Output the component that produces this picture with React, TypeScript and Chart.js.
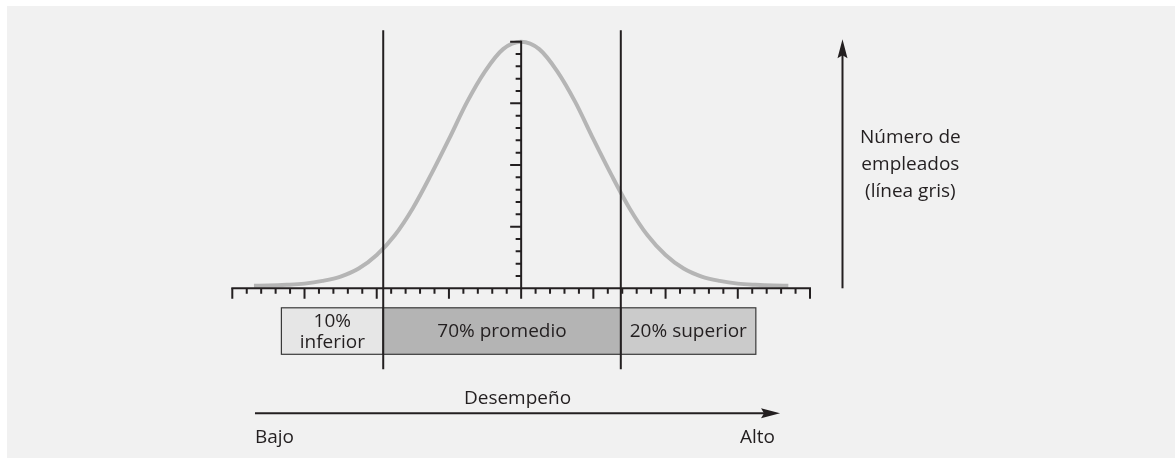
import React, { useEffect, useRef } from "react";
import { Chart, registerables } from "chart.js";

Chart.register(...registerables);

// Performance axis (x, in standard-deviation units) and number of employees (y)
const curveX = [
  -3.7, -3.5, -3.25, -3, -2.75, -2.5, -2.25, -2, -1.75, -1.5, -1.25, -1, -0.75, -0.5, -0.25,
  0, 0.25, 0.5, 0.75, 1, 1.25, 1.5, 1.75, 2, 2.25, 2.5, 2.75, 3, 3.25, 3.5, 3.7,
];
const curveY = [
  0.2, 0.22, 0.28, 0.38, 0.6, 0.95, 1.6, 2.7, 4.3, 6.5, 9.2, 12.1, 15.1, 17.6, 19.4,
  20, 19.4, 17.6, 15.1, 12.1, 9.2, 6.5, 4.3, 2.7, 1.6, 0.95, 0.6, 0.38, 0.28, 0.22, 0.2,
];

const segmentLabels = [["10%", "inferior"], ["70% promedio"], ["20% superior"]];
const segmentBounds = [-3.32, -1.91, 1.38, 3.25];
const segmentColors = ["#e6e6e6", "#b4b4b4", "#cbcbcb"];
const cutoffs = [-1.91, 1.38];

const xAxisTitle = "Desempeño";
const xLowLabel = "Bajo";
const xHighLabel = "Alto";
const yAxisTitle = ["Número de", "empleados", "(línea gris)"];

const INK = "#231f20";
const FONT = '19px "Open Sans"';

const overlay = {
  id: "overlay",
  afterDatasetsDraw(chart: any) {
    const ctx: CanvasRenderingContext2D = chart.ctx;
    const xs = chart.scales.x;
    const ys = chart.scales.y;
    const X = (v: number) => xs.getPixelForValue(v);
    const Y = (v: number) => ys.getPixelForValue(v);
    const y0 = Y(0);
    ctx.save();

    // Segment boxes
    const boxTop = y0 + 19.5;
    const boxBot = y0 + 66;
    ctx.font = FONT;
    ctx.textAlign = "center";
    ctx.textBaseline = "middle";
    for (let i = 0; i < segmentLabels.length; i++) {
      const l = X(segmentBounds[i]);
      const r = X(segmentBounds[i + 1]);
      ctx.fillStyle = segmentColors[i];
      ctx.fillRect(l, boxTop, r - l, boxBot - boxTop);
      ctx.strokeStyle = "#3a3a3a";
      ctx.lineWidth = 1.2;
      ctx.strokeRect(l, boxTop, r - l, boxBot - boxTop);
    }
    for (let i = 0; i < segmentLabels.length; i++) {
      const l = X(segmentBounds[i]);
      const r = X(segmentBounds[i + 1]);
      const lines = segmentLabels[i];
      const cy = (boxTop + boxBot) / 2;
      const lh = 21;
      ctx.fillStyle = INK;
      lines.forEach((t, k) => {
        ctx.fillText(t, (l + r) / 2, cy + (k - (lines.length - 1) / 2) * lh + 1);
      });
    }

    ctx.strokeStyle = INK;
    ctx.lineWidth = 2;
    ctx.lineCap = "butt";

    // X axis line and ticks
    ctx.beginPath();
    ctx.moveTo(X(-4) - 1, y0);
    ctx.lineTo(X(4) + 1, y0);
    ctx.stroke();
    ctx.beginPath();
    for (let i = 0; i <= 40; i++) {
      const px = X(-4 + i * 0.2);
      ctx.moveTo(px, y0);
      ctx.lineTo(px, y0 + (i % 5 === 0 ? 10.5 : 5.5));
    }
    ctx.stroke();

    // Y axis (center) with ticks on its left
    const cx = X(0);
    ctx.beginPath();
    ctx.moveTo(cx, y0);
    ctx.lineTo(cx, Y(20) - 1);
    ctx.stroke();
    ctx.beginPath();
    for (let i = 1; i <= 20; i++) {
      const py = Y(i);
      ctx.moveTo(cx, py);
      ctx.lineTo(cx - (i % 5 === 0 ? 11 : 5.5), py);
    }
    ctx.stroke();

    // Cutoff vertical lines
    ctx.beginPath();
    cutoffs.forEach((c) => {
      const px = X(c);
      ctx.moveTo(px, Y(20) - 11.5);
      ctx.lineTo(px, y0 + 81);
    });
    ctx.stroke();

    // Right vertical arrow
    const ax = X(4.45);
    const aTop = Y(20) - 2.5;
    ctx.beginPath();
    ctx.moveTo(ax, y0);
    ctx.lineTo(ax, aTop + 14);
    ctx.stroke();
    ctx.fillStyle = INK;
    ctx.beginPath();
    ctx.moveTo(ax, aTop);
    ctx.lineTo(ax + 5, aTop + 19);
    ctx.lineTo(ax, aTop + 16);
    ctx.lineTo(ax - 5, aTop + 19);
    ctx.closePath();
    ctx.fill();

    // Right label
    ctx.fillStyle = INK;
    ctx.textAlign = "center";
    const tx = X(5.39);
    yAxisTitle.forEach((t, k) => {
      ctx.fillText(t, tx, Y(10) - 27 + k * 27);
    });

    // Bottom arrow
    const bl = X(-3.686);
    const br = X(3.585);
    const by = y0 + 125;
    ctx.beginPath();
    ctx.moveTo(bl, by);
    ctx.lineTo(br - 14, by);
    ctx.stroke();
    ctx.beginPath();
    ctx.moveTo(br, by);
    ctx.lineTo(br - 19, by - 5);
    ctx.lineTo(br - 16, by);
    ctx.lineTo(br - 19, by + 5);
    ctx.closePath();
    ctx.fill();

    ctx.textAlign = "center";
    ctx.fillText(xAxisTitle, (bl + br) / 2, by - 15);
    ctx.textAlign = "left";
    ctx.fillText(xLowLabel, bl, by + 24);
    ctx.textAlign = "right";
    ctx.fillText(xHighLabel, X(3.515), by + 24);

    ctx.restore();
  },
};

export default function App() {
  const ref = useRef<HTMLCanvasElement | null>(null);

  useEffect(() => {
    if (!ref.current) return;
    const chart = new Chart(ref.current, {
      type: "line",
      data: {
        datasets: [
          {
            data: curveX.map((x, i) => ({ x, y: curveY[i] })),
            borderColor: "#b5b5b5",
            borderWidth: 4,
            pointRadius: 0,
            cubicInterpolationMode: "monotone",
            fill: false,
            clip: false as any,
          },
        ],
      },
      options: {
        animation: false,
        responsive: false,
        devicePixelRatio: 1,
        layout: { padding: { left: 232.3, right: 365, top: 41.7, bottom: 169.7 } },
        scales: {
          x: { type: "linear", min: -4, max: 4, display: false },
          y: { type: "linear", min: 0, max: 20, display: false },
        },
        plugins: { legend: { display: false }, tooltip: { enabled: false } },
        events: [],
      },
      plugins: [overlay],
    });
    return () => chart.destroy();
  }, []);

  return (
    <div style={{ position: "fixed", left: 0, top: 0, width: 1175, height: 458, background: "#ffffff" }}>
      <div style={{ position: "absolute", left: 7, top: 6, right: 0, bottom: 0, background: "#f1f1f1" }} />
      <canvas ref={ref} width={1175} height={458} style={{ position: "absolute", left: 0, top: 0 }} />
    </div>
  );
}
